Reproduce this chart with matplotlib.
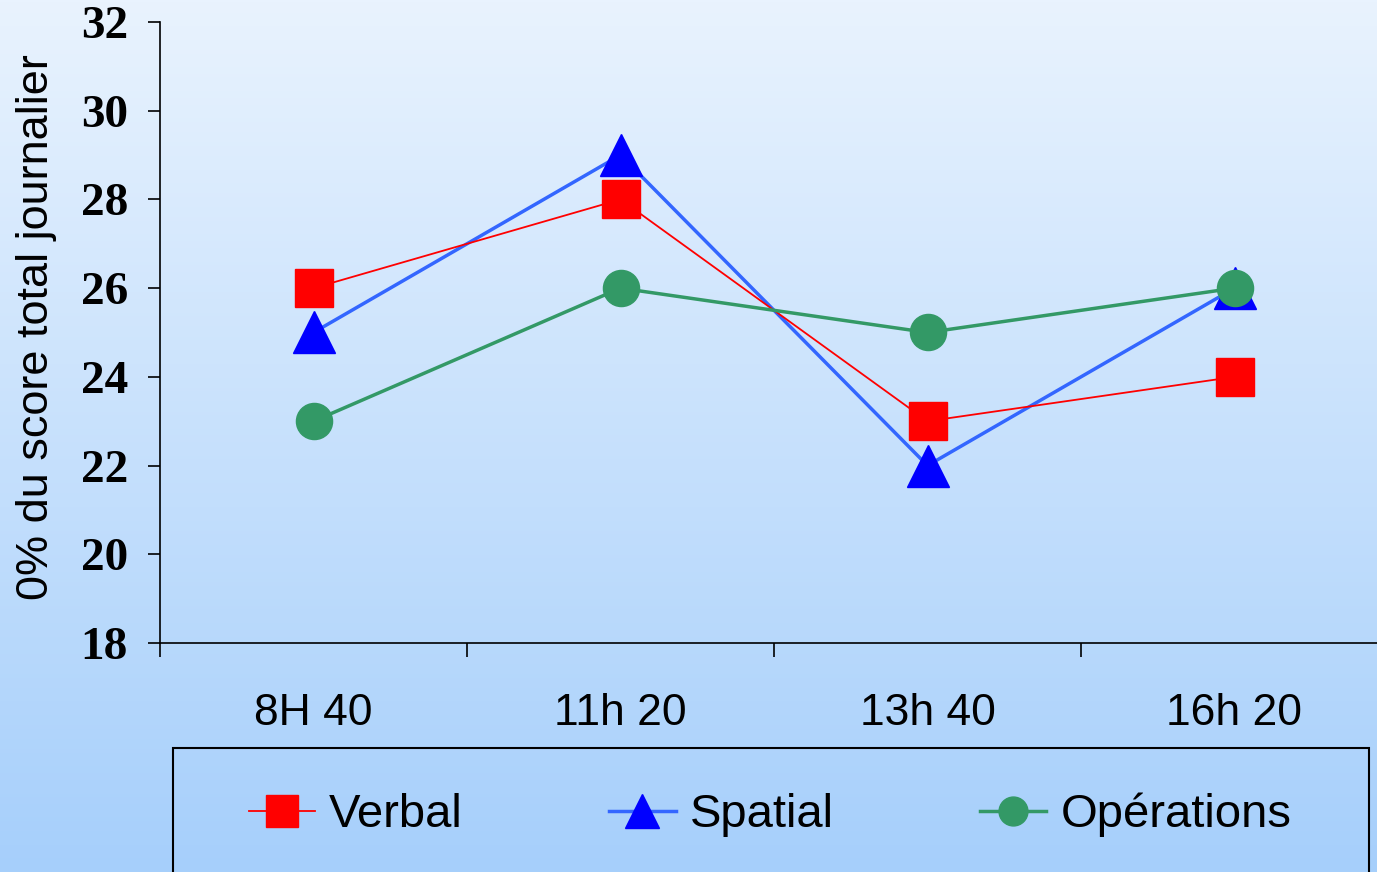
import numpy as np
import matplotlib
matplotlib.use('Agg')
import matplotlib.pyplot as plt
from matplotlib.patches import Rectangle

# データ
heures = ['8H 40', '11h 20', '13h 40', '16h 20']
verbal = [26, 28, 23, 24]
spatial = [25, 29, 22, 26]
operations = [23, 26, 25, 26]
yticks = [18, 20, 22, 24, 26, 28, 30, 32]

fig = plt.figure(figsize=(13.77, 8.72), dpi=100)

# 背景のグラデーション
bg = fig.add_axes([0, 0, 1, 1], zorder=-10)
top = np.array([233, 243, 254]) / 255
bottom = np.array([166, 207, 251]) / 255
t = np.linspace(0, 1, 256)[:, None]
grad = (top * (1 - t) + bottom * t)[:, None, :]
bg.imshow(grad, aspect='auto', extent=[0, 1, 0, 1])
bg.axis('off')

ax = fig.add_axes([160 / 1377, 229 / 872, 1228 / 1377, 621 / 872])
ax.patch.set_alpha(0)

x = np.arange(len(heures))
ax.plot(x, verbal, color='#ff0000', lw=1.3, marker='s', ms=28,
        mfc='#ff0000', mec='#ff0000', label='Verbal', zorder=3)
ax.plot(x, spatial, color='#3366ff', lw=2.5, marker='^', ms=30,
        mfc='#0000ff', mec='#0000ff', label='Spatial', zorder=2)
ax.plot(x, operations, color='#339966', lw=2.5, marker='o', ms=26,
        mfc='#339966', mec='#339966', label='Opérations', zorder=4)

ax.set_xlim(-0.5, 3.5)
ax.set_ylim(18, 32)
ax.set_yticks(yticks)
ax.set_yticklabels([str(v) for v in yticks], fontfamily='Liberation Serif',
                   fontweight='bold', fontsize=34)
ax.tick_params(axis='y', length=9, width=1.2, pad=14)

ax.set_xticks([-0.5, 0.5, 1.5, 2.5, 3.5])
ax.set_xticklabels([])
ax.set_xticks(x, minor=True)
ax.set_xticklabels(heures, minor=True, fontfamily='Liberation Sans', fontsize=32)
ax.tick_params(axis='x', which='major', length=10, width=1.2)
ax.tick_params(axis='x', which='minor', length=0, pad=36)

for s in ['top', 'right']:
    ax.spines[s].set_visible(False)
ax.spines['left'].set_linewidth(1.2)
ax.spines['bottom'].set_linewidth(1.2)

fig.text(37 / 1377, (872 - 327) / 872, '0% du score total journalier',
         rotation=90, ha='center', va='center',
         fontfamily='Liberation Sans', fontsize=32.5)

# 凡例の枠
fig.patches.append(Rectangle((173 / 1377, -0.05), 1196 / 1377, 0.05 + 124 / 872,
                             transform=fig.transFigure, fill=False,
                             edgecolor='black', lw=1.5))

leg = ax.legend(loc='center left', bbox_to_anchor=(249 / 1377, 57 / 872),
                bbox_transform=fig.transFigure, ncol=3, frameon=False,
                prop={'family': 'Liberation Sans', 'size': 34},
                handlelength=1.4, handletextpad=0.3, columnspacing=3.1,
                borderpad=0, borderaxespad=0, markerscale=0.8)

fig.savefig('out.png', dpi=100)
